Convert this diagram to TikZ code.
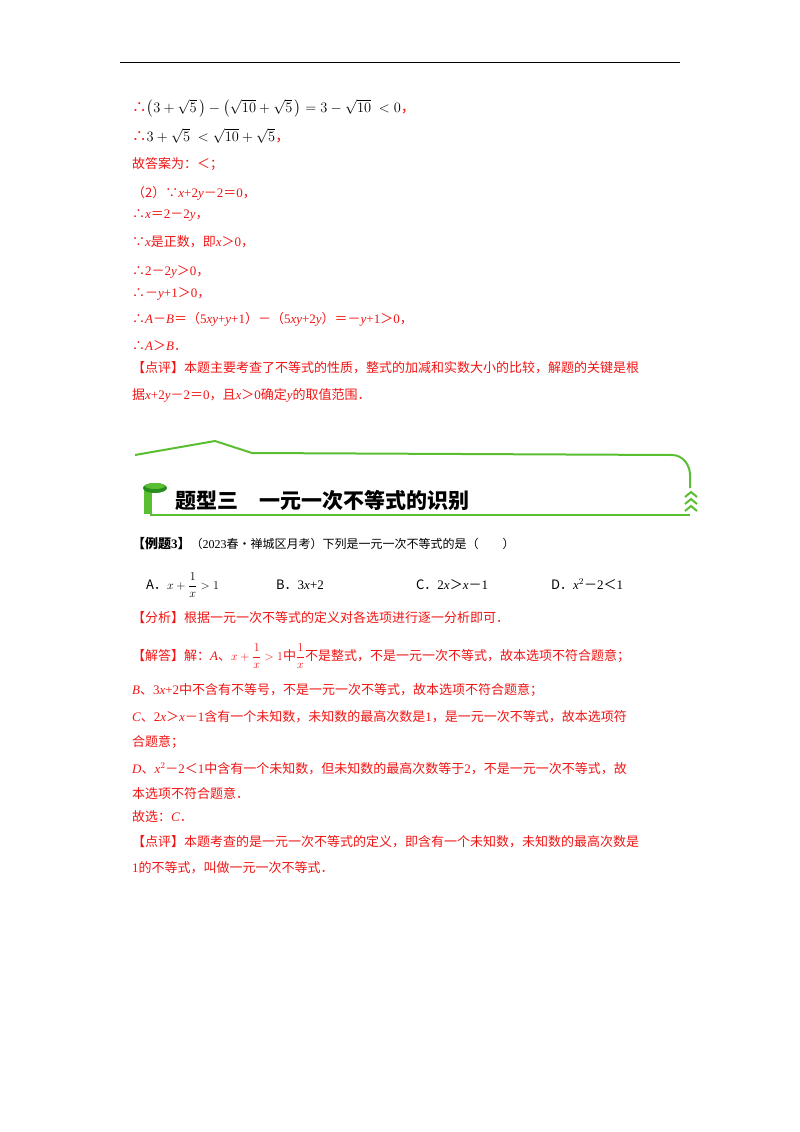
\documentclass[tikz,border=0pt]{standalone}
\usepackage{amsmath}
\usepackage{fontspec}
\setmainfont{Liberation Serif}
\newfontfamily\cjk{Noto Sans CJK SC}
\newfontfamily\lat{Liberation Serif}
\newcommand\mv[1]{{\lat\itshape #1}}
\newcommand\nm[1]{{\lat #1}}
\definecolor{rd}{RGB}{240,20,20}
\definecolor{gr}{RGB}{90,190,50}
\definecolor{dg}{RGB}{40,140,30}
\begin{document}
\begin{tikzpicture}[x=1pt,y=-1pt,
 t/.style={anchor=base west,inner sep=0,font=\fontsize{13}{15}\selectfont},
 r/.style={t,text=rd}]
\useasboundingbox (0,0) rectangle (800,1132);
\draw[line width=1pt] (120,63)--(680,63);
\node[t,font=\fontsize{14.5}{16}\selectfont] (l1) at (132,112) {\textcolor{rd}{\cjk ∴}$\bigl(3+\sqrt5\,\bigr)-\bigl(\sqrt{10}+\sqrt5\,\bigr)=3-\sqrt{10}\ <0$\textcolor{rd}{\cjk ，}};
\node[t,font=\fontsize{14.5}{16}\selectfont] (l2) at (132,141) {\textcolor{rd}{\cjk ∴}$3+\sqrt5\ <\sqrt{10}+\sqrt5$\textcolor{rd}{\cjk ，}};
\node[r] (l3) at (132,168) {\cjk 故答案为：＜；};
\node[r] (l4) at (132,197) {\cjk （2）∵\mv{x}\nm{+2}\mv{y}－\nm{2}＝\nm{0}，};
\node[r] (l5) at (132,218) {\cjk ∴\mv{x}＝\nm{2}－\nm{2}\mv{y}，};
\node[r] (l6) at (132,246) {\cjk ∵\mv{x}是正数，即\mv{x}＞\nm{0}，};
\node[r] (l7) at (132,275) {\cjk ∴\nm{2}－\nm{2}\mv{y}＞\nm{0}，};
\node[r] (l8) at (132,297) {\cjk ∴－\mv{y}\nm{+1}＞\nm{0}，};
\node[r] (l9) at (132,323) {\cjk ∴\mv{A}－\mv{B}＝（\nm{5}\mv{xy}\nm{+}\mv{y}\nm{+1}）－（\nm{5}\mv{xy}\nm{+2}\mv{y}）＝－\mv{y}\nm{+1}＞\nm{0}，};
\node[r] (l10) at (132,350) {\cjk ∴\mv{A}＞\mv{B}．};
\node[r] (l11) at (132,372) {\cjk 【点评】本题主要考查了不等式的性质，整式的加减和实数大小的比较，解题的关键是根};
\node[r] (l12) at (132,399) {\cjk 据\mv{x}\nm{+2}\mv{y}－\nm{2}＝\nm{0}，且\mv{x}＞\nm{0}确定\mv{y}的取值范围．};
% banner
\draw[gr,line width=2pt] (135,455)--(215,441)--(252,453)--(672,455) to[out=0,in=90] (690,475)--(690,488);
\draw[gr,line width=2.5pt] (150,515)--(690,515);
\fill[gr] (144,490) rectangle (152,514);
\fill[dg] (155,488) ellipse (12 and 5);
\fill[gr] (155,486) ellipse (10 and 3);
\foreach \yy in {492,499,506}{\draw[gr,line width=2pt] (685,\yy+5)--(691,\yy)--(697,\yy+5);}
\node[t,font=\fontsize{21}{24}\selectfont\cjk\bfseries] (ttl) at (175,508) {题型三\quad 一元一次不等式的识别};
% example
\node[t] (e1) at (132,548) {\cjk\bfseries 【例题\nm{3}】\mdseries\fontsize{12}{14}\selectfont（\nm{2023}春•禅城区月考）下列是一元一次不等式的是（\qquad）};
\node[t] (oa) at (146,589) {\cjk A．$x+\dfrac1x>1$};
\node[t] (ob) at (276,589) {\cjk B．\nm{3}\mv{x}\nm{+2}};
\node[t] (oc) at (416,589) {\cjk C．\nm{2}\mv{x}＞\mv{x}－\nm{1}};
\node[t] (od) at (551,589) {\cjk D．\mv{x}$^2$－\nm{2}＜\nm{1}};
\node[r] (a1) at (132,622) {\cjk 【分析】根据一元一次不等式的定义对各选项进行逐一分析即可．};
\node[r] (a2) at (132,660) {\cjk 【解答】解：\mv{A}、$x+\dfrac1x>1$中$\dfrac1x$不是整式，不是一元一次不等式，故本选项不符合题意；};
\node[r] (a3) at (132,694) {\cjk \mv{B}、\nm{3}\mv{x}\nm{+2}中不含有不等号，不是一元一次不等式，故本选项不符合题意；};
\node[r] (a4) at (132,721) {\cjk \mv{C}、\nm{2}\mv{x}＞\mv{x}－\nm{1}含有一个未知数，未知数的最高次数是\nm{1}，是一元一次不等式，故本选项符};
\node[r] (a5) at (132,746) {\cjk 合题意；};
\node[r] (a6) at (132,773) {\cjk \mv{D}、\mv{x}$^2$－\nm{2}＜\nm{1}中含有一个未知数，但未知数的最高次数等于\nm{2}，不是一元一次不等式，故};
\node[r] (a7) at (132,798) {\cjk 本选项不符合题意．};
\node[r] (a8) at (132,821) {\cjk 故选：\mv{C}．};
\node[r] (a9) at (132,846) {\cjk 【点评】本题考查的是一元一次不等式的定义，即含有一个未知数，未知数的最高次数是};
\node[r] (a10) at (132,872) {\cjk \nm{1}的不等式，叫做一元一次不等式．};
\end{tikzpicture}
\end{document}
